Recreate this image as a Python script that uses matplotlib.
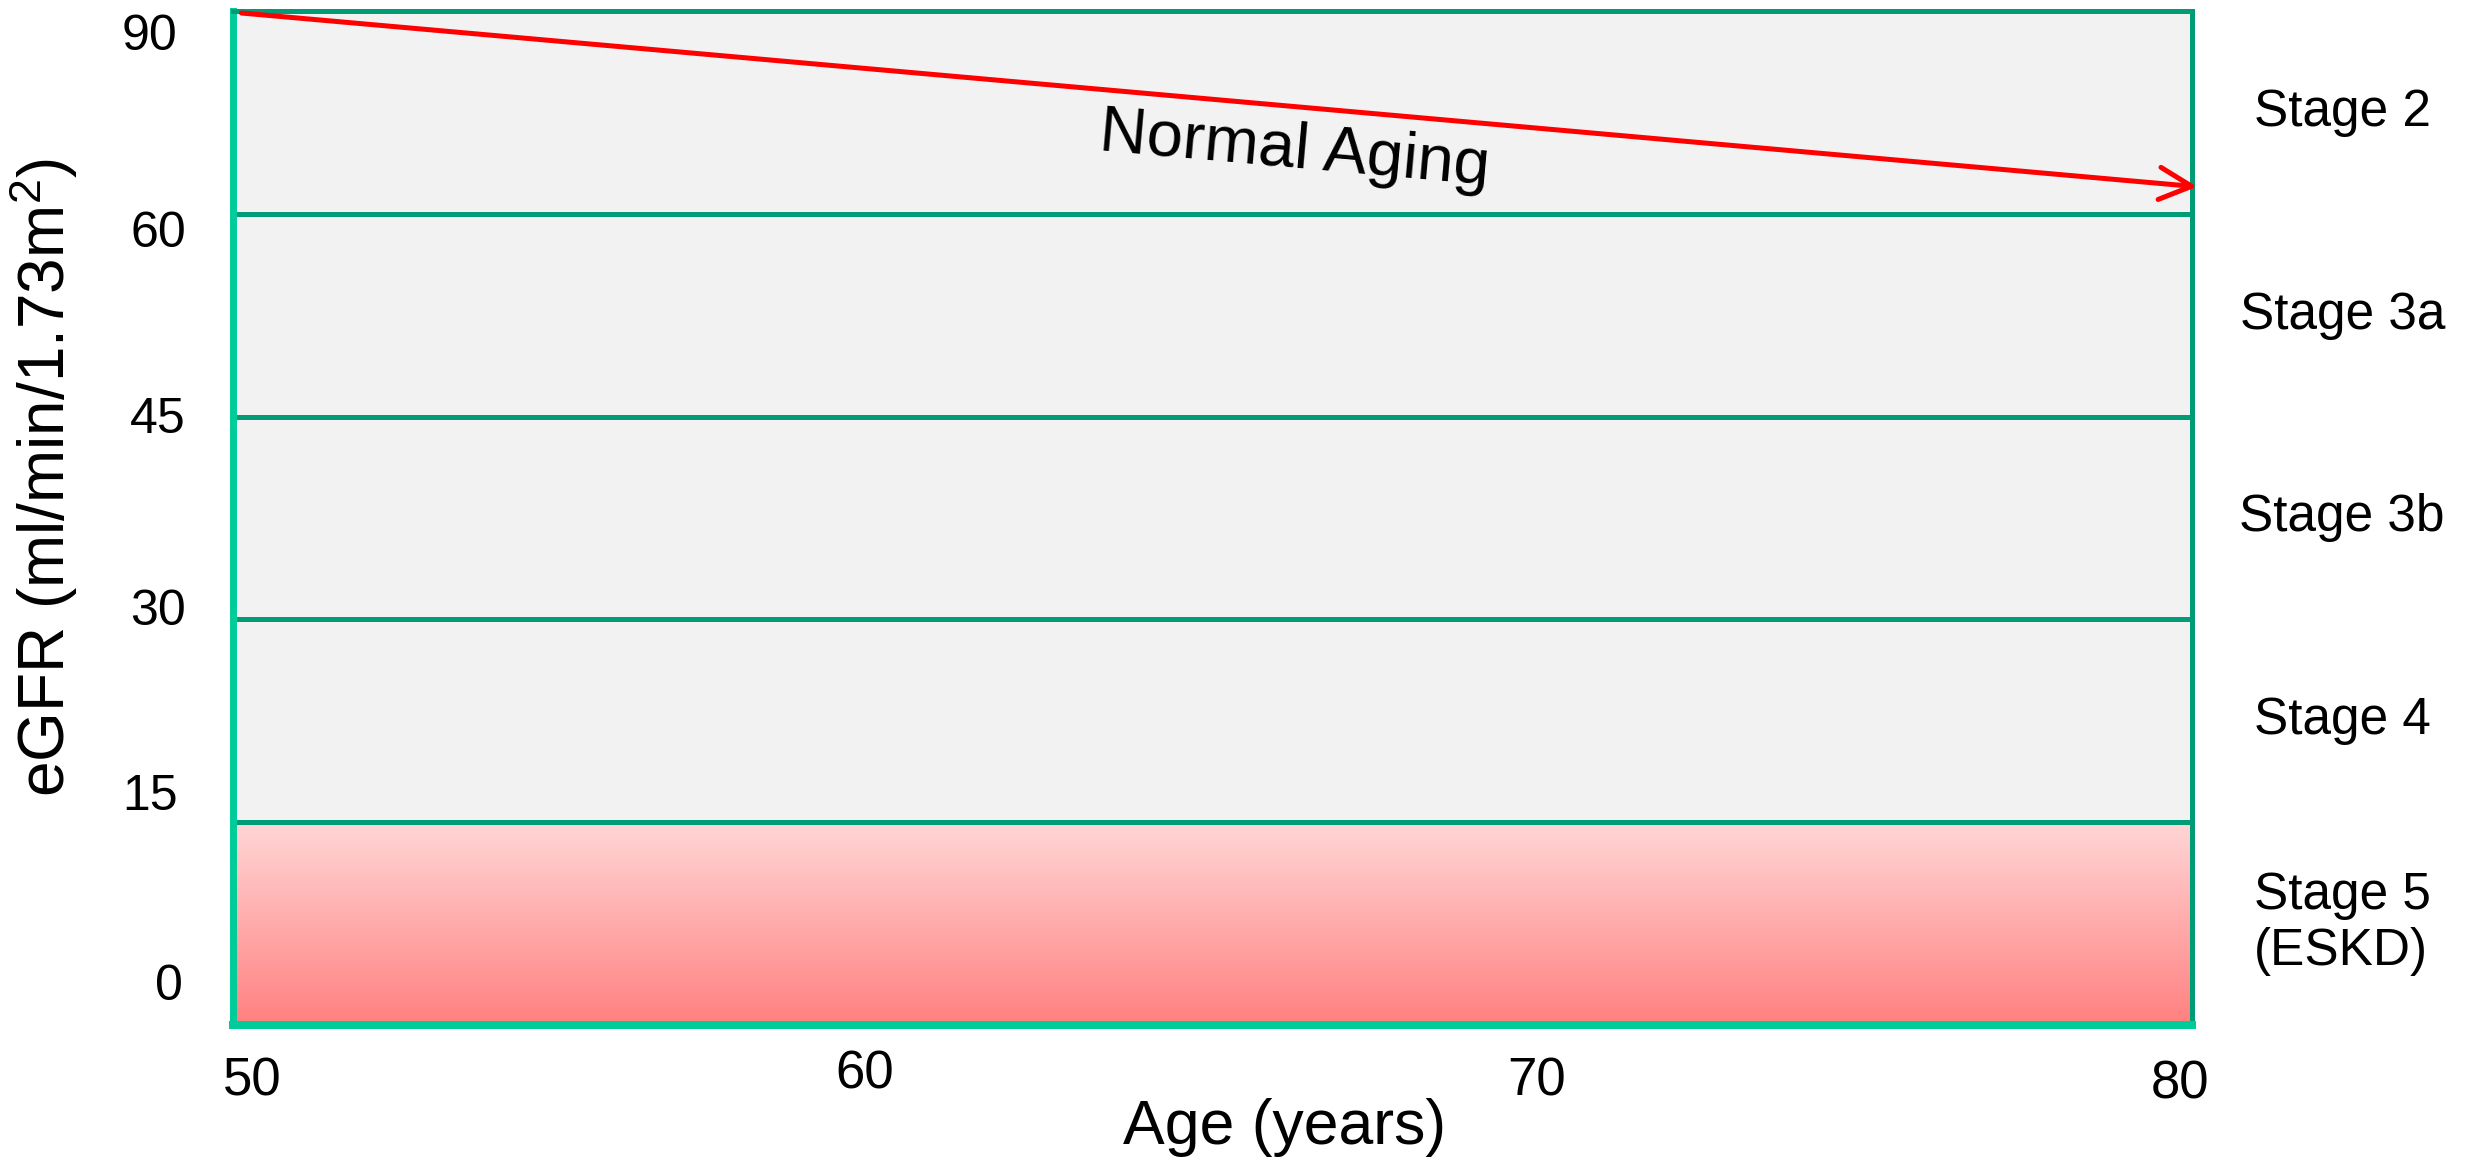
import numpy as np
import matplotlib
matplotlib.use("Agg")
import matplotlib.pyplot as plt
import matplotlib.transforms as mtransforms

plt.rcParams['font.family'] = ['Liberation Sans', 'DejaVu Sans']
plt.rcParams['mathtext.fontset'] = 'custom'
plt.rcParams['mathtext.rm'] = 'Liberation Sans'
plt.rcParams['mathtext.it'] = 'Liberation Sans'

# eGFR stage boundaries (each band drawn the same height)
band_edges = [0, 15, 30, 45, 60, 90]
stage_names = ['Stage 5\n(ESKD)', 'Stage 4', 'Stage 3b', 'Stage 3a', 'Stage 2']
age_ticks = [50, 60, 70, 80]

# normal aging line: age -> eGFR
aging_age = [50, 80]
aging_egfr = [90, 64]

# colours
grid_green = '#009B77'
frame_teal = '#00CC99'
panel_grey = '#F2F2F2'

band_idx = np.arange(len(band_edges))


def fwd(v):
    return np.interp(v, band_edges, band_idx)


def inv(v):
    return np.interp(v, band_idx, band_edges)


fig = plt.figure(figsize=(24.81, 11.60), dpi=100)
ax = fig.add_axes([233 / 2481, 1 - 1025 / 1160, (2192 - 233) / 2481, (1025 - 11) / 1160])
ax.set_yscale('function', functions=(fwd, inv))
ax.set_xlim(age_ticks[0], age_ticks[-1])
ax.set_ylim(band_edges[0], band_edges[-1])
ax.set_facecolor(panel_grey)

# red gradient for the kidney failure band
frac = fwd(band_edges[1]) / fwd(band_edges[-1])
top_c = np.array([255, 214, 214]) / 255
bot_c = np.array([255, 128, 128]) / 255
t = np.linspace(0, 1, 256)[:, None]
grad = (top_c * (1 - t) + bot_c * t)[:, None, :]
ax.imshow(grad, extent=[0, 1, 0, frac], transform=ax.transAxes,
          aspect='auto', origin='upper', zorder=1)

for e in band_edges[1:-1]:
    ax.axhline(e, color=grid_green, lw=3.6, zorder=2)

# stage names to the right of the panel
for lo, hi, name in zip(band_edges[:-1], band_edges[1:], stage_names):
    mid = inv((fwd(lo) + fwd(hi)) / 2)
    ax.text(82.3, mid, name, ha='center', va='center', multialignment='left',
            fontsize=37, clip_on=False)

ax.annotate('', xy=(aging_age[1] + 0.08, aging_egfr[1]), xytext=(aging_age[0] + 0.13, aging_egfr[0] - 0.3),
            arrowprops=dict(arrowstyle='->', color='red', lw=3.6, mutation_scale=58,
                            shrinkA=0, shrinkB=0),
            annotation_clip=False, zorder=4)
ax.text(66.25, 69.4, 'Normal Aging', fontsize=47, rotation=-5.1,
        rotation_mode='anchor', ha='center', va='center', zorder=4)

for side in ['top', 'right']:
    ax.spines[side].set_color(grid_green)
    ax.spines[side].set_linewidth(3.6)
ax.spines['left'].set_color(frame_teal)
ax.spines['left'].set_linewidth(5)
ax.spines['bottom'].set_color(frame_teal)
ax.spines['bottom'].set_linewidth(5.8)
for s in ax.spines.values():
    s.set_zorder(3)

ax.set_xticks(age_ticks)
ax.set_xticklabels([str(a) for a in age_ticks])
ax.set_yticks(band_edges)
ax.set_yticklabels([str(e) for e in band_edges])
ax.yaxis.set_minor_locator(matplotlib.ticker.NullLocator())
ax.tick_params(axis='both', length=0)
ax.tick_params(axis='y', labelsize=36, pad=34)
ax.tick_params(axis='x', labelsize=38, pad=23)

# shift individual tick labels (pixels: right, up)
ytick_shift = [(-3, 43), (-8, 30), (0, 12), (0, 2), (0, -15), (-8, -21)]
xtick_shift = [(19, 0), (-21, 7), (-2, 0), (-12, -3)]
for lab, (dx, dy) in zip(ax.get_yticklabels(), ytick_shift):
    lab.set_transform(lab.get_transform() +
                      mtransforms.ScaledTranslation(dx / 100, dy / 100, fig.dpi_scale_trans))
for lab, (dx, dy) in zip(ax.get_xticklabels(), xtick_shift):
    lab.set_transform(lab.get_transform() +
                      mtransforms.ScaledTranslation(dx / 100, dy / 100, fig.dpi_scale_trans))

ax.set_ylabel('eGFR (ml/min/1.73m$^{2}$)', fontsize=46)
ax.yaxis.set_label_coords(-0.078, 0.54)
ax.set_xlabel('Age (years)', fontsize=45)
ax.xaxis.set_label_coords(0.537, -0.072)

fig.savefig('out.png', dpi=100)
